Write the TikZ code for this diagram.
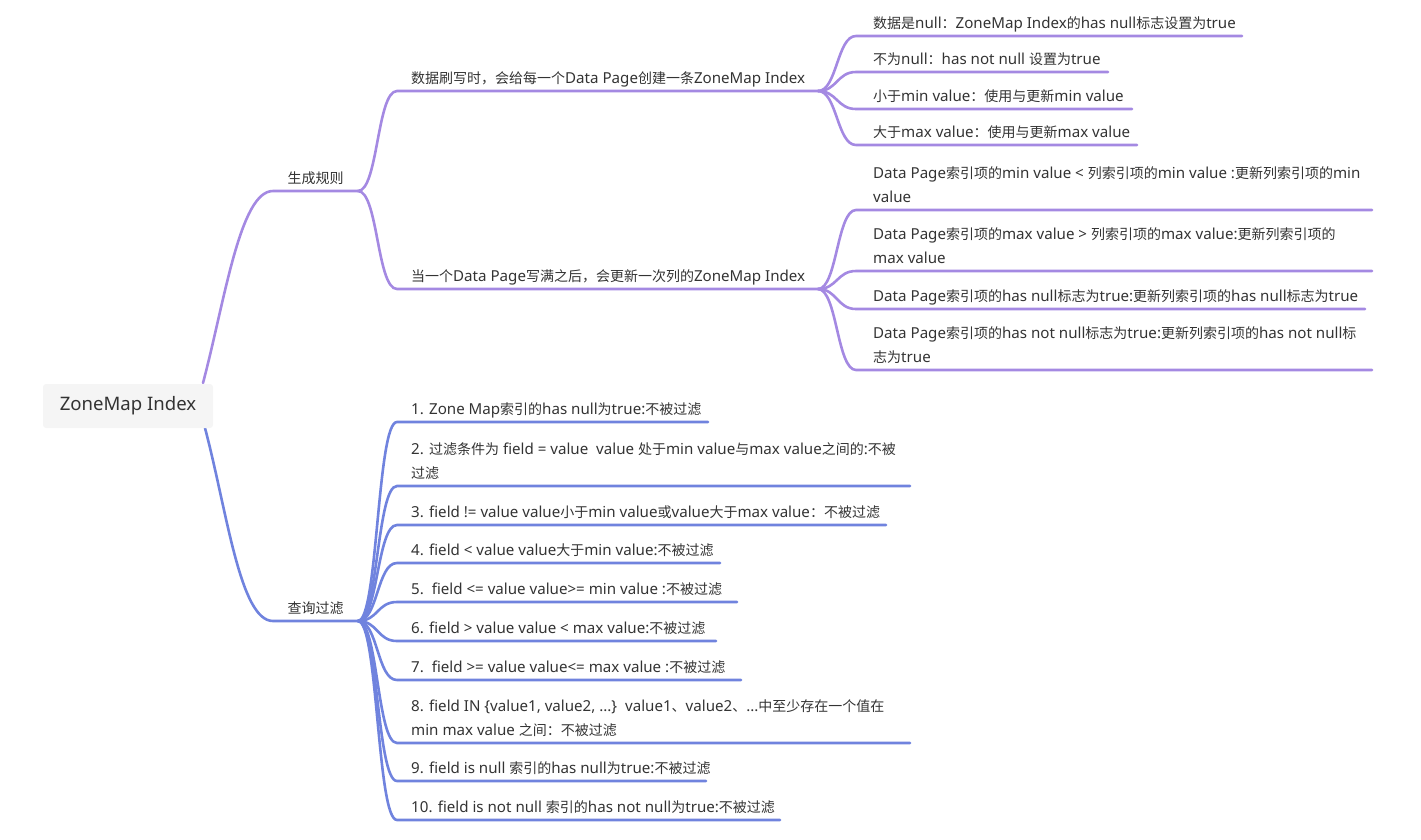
\documentclass[tikz,border=0pt]{standalone}
\usepackage{fontspec}
\setmainfont{Noto Sans}[Scale=1.08]
\newfontfamily\cjkfont{Noto Sans CJK SC}
\XeTeXinterchartokenstate=1
\newXeTeXintercharclass\cjkcls
\count255="3000
\loop\ifnum\count255<"A000 \XeTeXcharclass\count255=\cjkcls \advance\count255 by 1 \repeat
\count255="FF00
\loop\ifnum\count255<"FFF0 \XeTeXcharclass\count255=\cjkcls \advance\count255 by 1 \repeat
\XeTeXinterchartoks 0 \cjkcls = {\cjkfont}
\XeTeXinterchartoks 4095 \cjkcls = {\cjkfont}
\XeTeXinterchartoks \cjkcls 0 = {\rmfamily}
\XeTeXinterchartoks \cjkcls 4095 = {\rmfamily}
\definecolor{purplec}{RGB}{164,137,226}
\definecolor{bluec}{RGB}{112,131,222}
\definecolor{textc}{RGB}{51,51,51}
\definecolor{rootfill}{RGB}{245,245,245}
\begin{document}
\begin{tikzpicture}[x=1pt,y=-1pt,
  txt/.style={anchor=base west, inner sep=0pt, font=\fontsize{14}{24}\selectfont, text=textc},
  midtxt/.style={anchor=base, inner sep=0pt, font=\fontsize{14}{24}\selectfont, text=textc},
  purp/.style={draw=purplec, line width=2.6pt, line cap=round},
  blu/.style={draw=bluec, line width=2.6pt, line cap=round},
  rootbox/.style={fill=rootfill, rounded corners=3pt, minimum width=170pt, minimum height=44pt, inner sep=0pt, font=\fontsize{17.2}{24}\selectfont, text=textc}
]
\useasboundingbox (0,0) rectangle (1421,839);
\newcommand{\twoline}[2]{\parbox[t]{560pt}{\raggedright #1\\#2}}

% ---------- coordinates ----------
\coordinate (rt) at (203,383);
\coordinate (rb) at (205,428);
\coordinate (g1s) at (273,191); \coordinate (g1e) at (358,191);
\coordinate (g2s) at (273,621); \coordinate (g2e) at (358,621);
\coordinate (a1s) at (397,91);  \coordinate (a1e) at (818,91);
\coordinate (a2s) at (397,289); \coordinate (a2e) at (818,289);
% level 3 under a1
\coordinate (b1s) at (856,36);  \coordinate (b1e) at (1242,36);
\coordinate (b2s) at (856,72);  \coordinate (b2e) at (1108,72);
\coordinate (b3s) at (856,109); \coordinate (b3e) at (1132,109);
\coordinate (b4s) at (856,145); \coordinate (b4e) at (1137,145);
% level 3 under a2
\coordinate (c1s) at (856,210); \coordinate (c1e) at (1372,210);
\coordinate (c2s) at (856,271); \coordinate (c2e) at (1372,271);
\coordinate (c3s) at (856,309); \coordinate (c3e) at (1365,309);
\coordinate (c4s) at (856,370); \coordinate (c4e) at (1372,370);
% bottom children
\coordinate (q1s) at (397,422);  \coordinate (q1e) at (708,422);
\coordinate (q2s) at (397,486);  \coordinate (q2e) at (910,486);
\coordinate (q3s) at (397,525);  \coordinate (q3e) at (886,525);
\coordinate (q4s) at (397,563);  \coordinate (q4e) at (720,563);
\coordinate (q5s) at (397,602);  \coordinate (q5e) at (737,602);
\coordinate (q6s) at (397,641);  \coordinate (q6e) at (716,641);
\coordinate (q7s) at (397,680);  \coordinate (q7e) at (741,680);
\coordinate (q8s) at (397,743);  \coordinate (q8e) at (910,743);
\coordinate (q9s) at (397,781);  \coordinate (q9e) at (706,781);
\coordinate (q10s) at (397,820); \coordinate (q10e) at (780,820);

% ---------- connectors ----------
\draw[purp] (rt) .. controls (225,300) and (240,191) .. (g1s) -- (g1e);
\draw[blu] (rb) .. controls (227,511) and (240,621) .. (g2s) -- (g2e);

\foreach \c in {a1,a2}
  \draw[purp] (g1e) .. controls +(20,0) and +(-20,0) .. (\c s) -- (\c e);
\foreach \c in {b1,b2,b3,b4}
  \draw[purp] (a1e) .. controls +(19,0) and +(-19,0) .. (\c s) -- (\c e);
\foreach \c in {c1,c2,c3,c4}
  \draw[purp] (a2e) .. controls +(19,0) and +(-19,0) .. (\c s) -- (\c e);
\foreach \c in {q1,q2,q3,q4,q5,q6,q7,q8,q9,q10}
  \draw[blu] (g2e) .. controls +(20,0) and +(-20,0) .. (\c s) -- (\c e);

% ---------- root ----------
\node[rootbox] (root) at (128,406) {ZoneMap Index};

% ---------- texts ----------
\node[midtxt] (gen) at (315.5,183) {生成规则};
\node[midtxt] (qry) at (315.5,613) {查询过滤};

\node[txt] (a1) at (411,83) {数据刷写时，会给每一个Data Page创建一条ZoneMap Index};
\node[txt] (a2) at (411,281) {当一个Data Page写满之后，会更新一次列的ZoneMap Index};

\node[txt] (b1) at (873,28) {数据是null：ZoneMap Index的has null标志设置为true};
\node[txt] (b2) at (873,64) {不为null：has not null 设置为true};
\node[txt] (b3) at (873,101) {小于min value：使用与更新min value};
\node[txt] (b4) at (873,137) {大于max value：使用与更新max value};

\node[txt] (c1) at (873,178) {\twoline{Data Page索引项的min value < 列索引项的min value :更新列索引项的min}{value}};
\node[txt] (c2) at (873,239) {\twoline{Data Page索引项的max value > 列索引项的max value:更新列索引项的}{max value}};
\node[txt] (c3) at (873,301) {Data Page索引项的has null标志为true:更新列索引项的has null标志为true};
\node[txt] (c4) at (873,338) {\twoline{Data Page索引项的has not null标志为true:更新列索引项的has not null标}{志为true}};

\node[txt] (q1) at (411,414) {1. Zone Map索引的has null为true:不被过滤};
\node[txt] (q2) at (411,454) {\twoline{2. 过滤条件为 field = value\ \ value 处于min value与max value之间的:不被}{过滤}};
\node[txt] (q3) at (411,517) {3. field != value value小于min value或value大于max value：不被过滤};
\node[txt] (q4) at (411,555) {4. field < value value大于min value:不被过滤};
\node[txt] (q5) at (411,594) {5.\ \ field <= value value>= min value :不被过滤};
\node[txt] (q6) at (411,633) {6. field > value value < max value:不被过滤};
\node[txt] (q7) at (411,672) {7.\ \ field >= value value<= max value :不被过滤};
\node[txt] (q8) at (411,711) {\twoline{8. field IN \{value1, value2, ...\}\ \ value1、value2、...中至少存在一个值在}{min max value 之间：不被过滤}};
\node[txt] (q9) at (411,773) {9. field is null 索引的has null为true:不被过滤};
\node[txt] (q10) at (411,812) {10. field is not null 索引的has not null为true:不被过滤};
\end{tikzpicture}
\end{document}
